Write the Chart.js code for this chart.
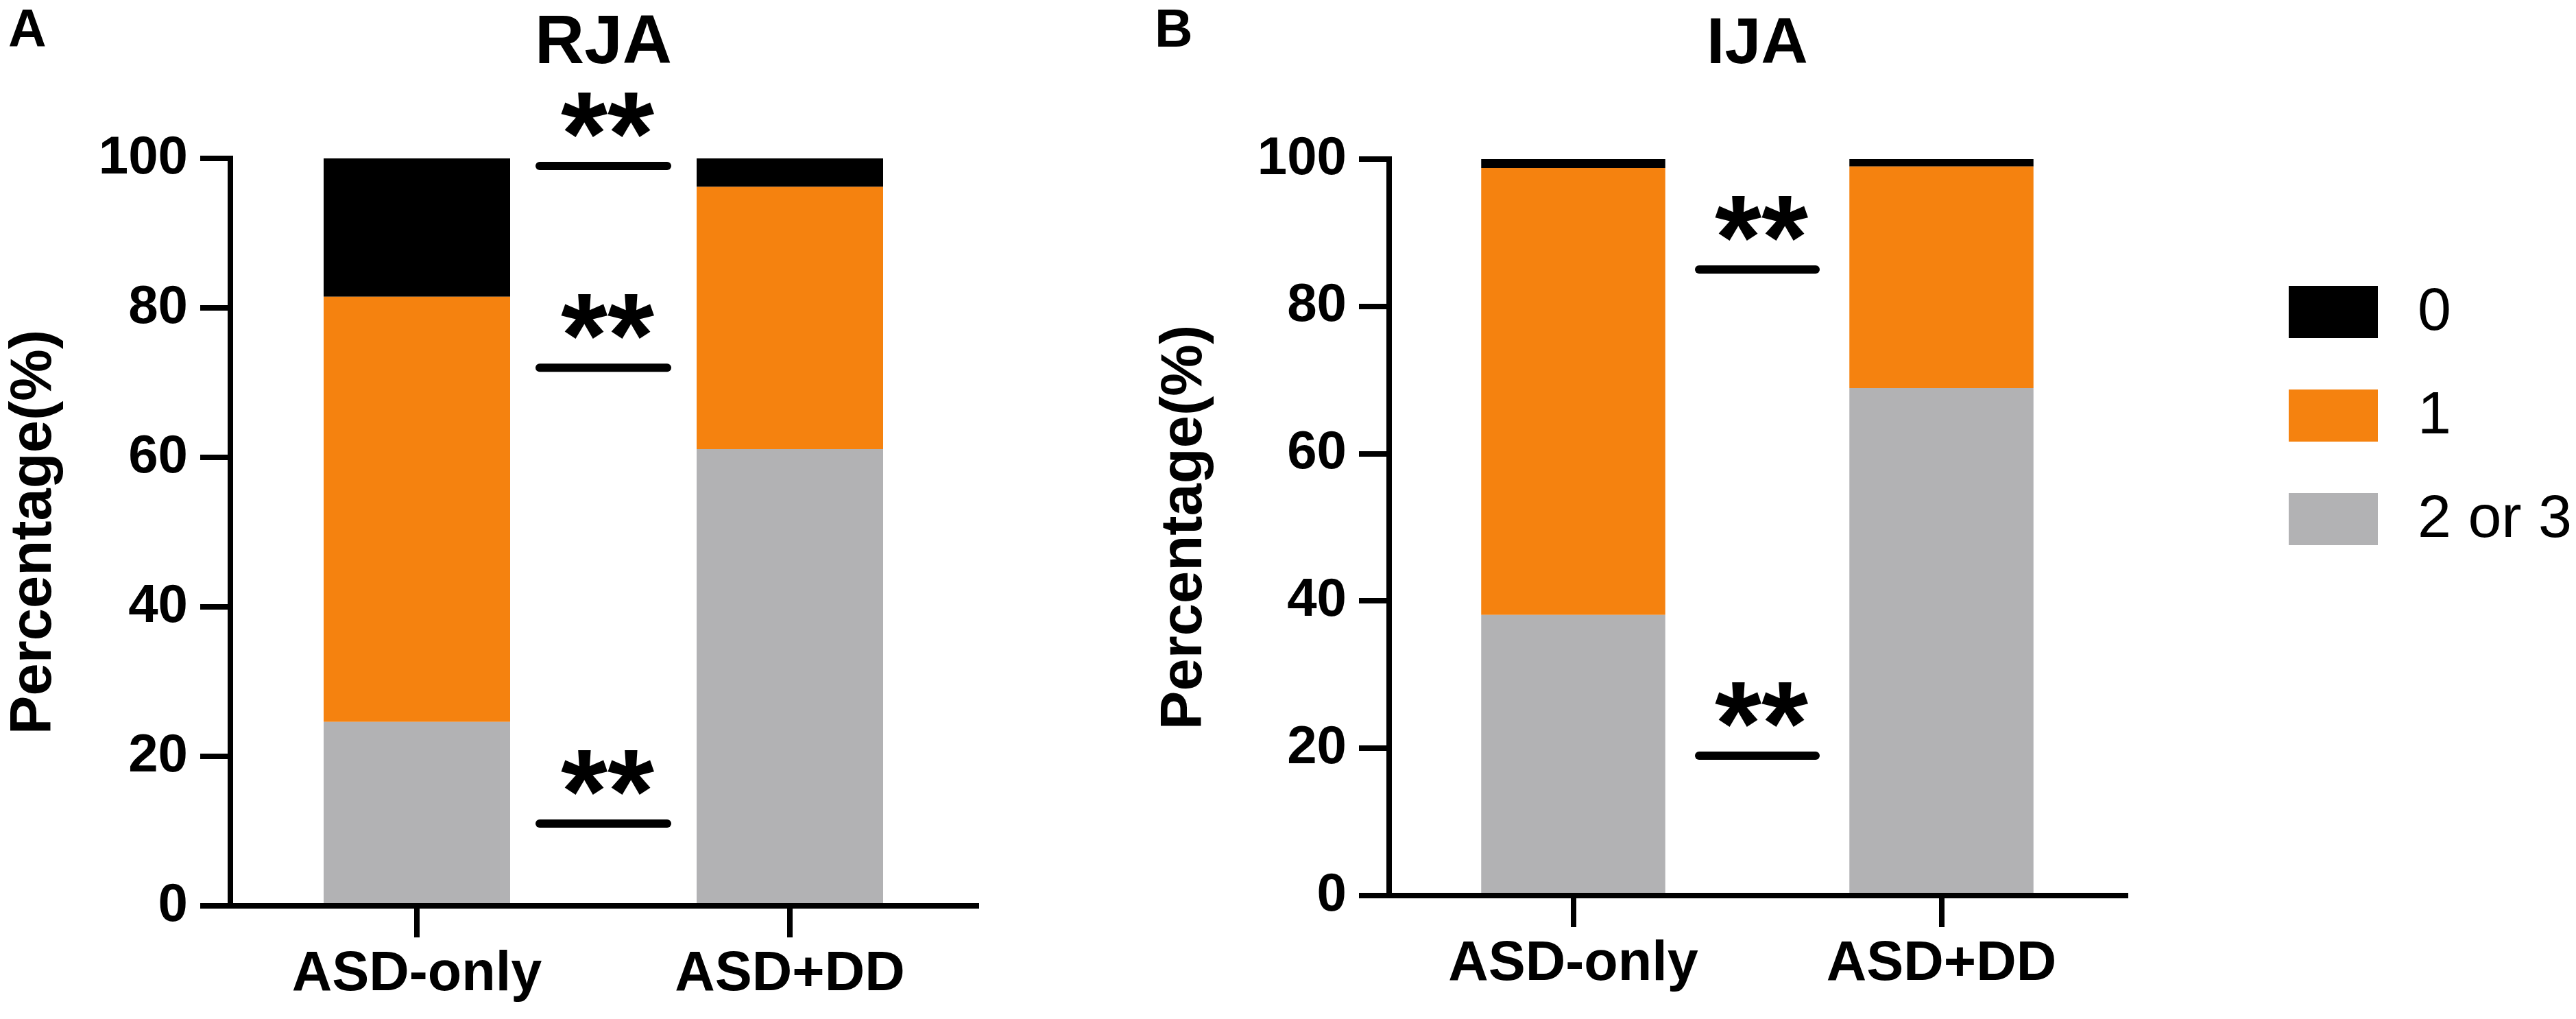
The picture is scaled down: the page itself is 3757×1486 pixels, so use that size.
<!DOCTYPE html>
<html>
<head>
<meta charset="utf-8">
<script src="https://cdn.jsdelivr.net/npm/chart.js@4.4.1/dist/chart.umd.min.js"></script>
<style>
  html, body { margin: 0; padding: 0; background: #fff; overflow: hidden; }
  .panel { position: absolute; top: 0; height: 1486px; }
  #panelA { left: 0; width: 1678px; }
  #panelB { left: 1678px; width: 2079px; }
</style>
</head>
<body>
<div class="panel" id="panelA"><canvas id="chartA"></canvas></div>
<div class="panel" id="panelB"><canvas id="chartB"></canvas></div>
<script>
// values (percent of children per score)
const categories = ['ASD-only', 'ASD+DD'];
const scoreLabels = ['0', '1', '2 or 3'];

const rjaZero = [18.5, 3.8];
const rjaOne = [56.9, 35.1];
const rjaTwoThree = [24.6, 61.1];

const ijaZero = [1.2, 1.0];
const ijaOne = [60.7, 30.1];
const ijaTwoThree = [38.1, 68.9];

const yTicks = [0, 20, 40, 60, 80, 100];

// heights of the "**" bars between the groups
const rjaSig = [99, 72, 11];
const ijaSig = [85, 19];

const colors = { zero: '#000000', one: '#f5820f', twoThree: '#b2b2b4' };
const FONT = "'Liberation Sans', Arial, Helvetica, sans-serif";
Chart.defaults.font.family = FONT;
Chart.defaults.color = '#000';

function makeDatasets(zero, one, twoThree) {
    // bottom of the stack first
    return [
        { label: scoreLabels[2], data: twoThree, backgroundColor: colors.twoThree },
        { label: scoreLabels[1], data: one, backgroundColor: colors.one },
        { label: scoreLabels[0], data: zero, backgroundColor: colors.zero }
    ];
}

// titles, panel letter, significance marks and (optionally) the legend
function overlay(opts) {
    return {
        id: 'overlay',
        afterDraw(chart) {
            const ctx = chart.ctx;
            const area = chart.chartArea;
            const x = chart.scales.x;
            const y = chart.scales.y;
            ctx.save();
            ctx.fillStyle = '#000';
            ctx.textBaseline = 'alphabetic';

            ctx.font = `bold 77px ${FONT}`;
            ctx.textAlign = 'left';
            ctx.fillText(opts.letter, opts.letterX, 68);

            ctx.font = `bold ${opts.titleSize}px ${FONT}`;
            ctx.textAlign = 'center';
            ctx.fillText(opts.title, (area.left + area.right) / 2, 92);

            const mid = (x.getPixelForValue(0) + x.getPixelForValue(1)) / 2;
            opts.sig.forEach(v => {
                const py = y.getPixelForValue(v);
                ctx.strokeStyle = '#000';
                ctx.lineWidth = 12;
                ctx.lineCap = 'round';
                ctx.beginPath();
                ctx.moveTo(mid - opts.sigHalf, py);
                ctx.lineTo(mid + opts.sigHalf, py);
                ctx.stroke();
                ctx.font = `bold 175px ${FONT}`;
                ctx.textAlign = 'center';
                ctx.fillText('**', mid + 6, py + 13);
            });

            if (opts.legend) {
                const sets = chart.data.datasets.slice().reverse();
                const bx = area.right + 238;
                sets.forEach((ds, i) => {
                    const top = 417 + i * 151;
                    ctx.fillStyle = ds.backgroundColor;
                    ctx.fillRect(bx, top, 130, 76);
                    ctx.fillStyle = '#000';
                    ctx.font = `88px ${FONT}`;
                    ctx.textAlign = 'left';
                    ctx.textBaseline = 'middle';
                    ctx.fillText(ds.label, bx + 188, top + 40);
                });
            }
            ctx.restore();
        }
    };
}

function makeOptions(yWidth, xHeight, pad) {
    return {
        responsive: true,
        maintainAspectRatio: false,
        animation: false,
        devicePixelRatio: 1,
        layout: { padding: pad },
        plugins: { legend: { display: false }, tooltip: { enabled: false } },
        datasets: { bar: { categoryPercentage: 1, barPercentage: 0.5, borderWidth: 0 } },
        scales: {
            x: {
                stacked: true,
                grid: { offset: false, drawOnChartArea: false, drawTicks: true, tickLength: 46, lineWidth: 8, color: '#000' },
                border: { display: true, width: 8, color: '#000' },
                ticks: { font: { size: 81, weight: 'bold' }, padding: 6, maxRotation: 0 },
                afterFit: s => { s.height = xHeight; }
            },
            y: {
                stacked: true,
                min: 0,
                max: 100,
                afterBuildTicks: s => { s.ticks = yTicks.map(v => ({ value: v })); },
                grid: { drawOnChartArea: false, drawTicks: true, tickLength: 44, lineWidth: 8, color: '#000' },
                border: { display: true, width: 8, color: '#000' },
                ticks: { font: { size: 78, weight: 'bold' }, padding: 18 },
                title: { display: true, text: 'Percentage(%)', font: { size: 85, weight: 'bold' }, padding: 0 },
                afterFit: s => { s.width = yWidth; }
            }
        }
    };
}

new Chart(document.getElementById('chartA'), {
    type: 'bar',
    data: { labels: categories, datasets: makeDatasets(rjaZero, rjaOne, rjaTwoThree) },
    options: makeOptions(336, 1486 - 1321, { top: 231, right: 1678 - 1424, bottom: 0, left: 0 }),
    plugins: [overlay({ letter: 'A', letterX: 12, title: 'RJA', titleSize: 100, sig: rjaSig, sigHalf: 93, legend: false })]
});

new Chart(document.getElementById('chartB'), {
    type: 'bar',
    data: { labels: categories, datasets: makeDatasets(ijaZero, ijaOne, ijaTwoThree) },
    options: makeOptions(2026 - 1678, 1486 - 1306, { top: 232, right: 3757 - 3100, bottom: 0, left: 0 }),
    plugins: [overlay({ letter: 'B', letterX: 6, title: 'IJA', titleSize: 95, sig: ijaSig, sigHalf: 85, legend: true })]
});
</script>
</body>
</html>
